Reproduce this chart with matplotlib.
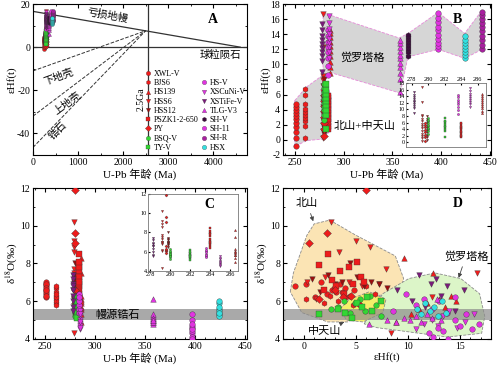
import numpy as np
import matplotlib
matplotlib.use('Agg')
import matplotlib.pyplot as plt
from matplotlib.lines import Line2D
from matplotlib.patches import Polygon
from matplotlib.ticker import AutoMinorLocator

plt.rcParams['font.family'] = ['Liberation Serif', 'Noto Sans CJK SC']
plt.rcParams['mathtext.fontset'] = 'stix'
plt.rcParams['axes.unicode_minus'] = False

# 颜色
red = '#ee1c1c'
darkred = '#9a0e0e'
green = '#33d633'
magenta = '#e033e0'
purple = '#7a1a7a'
cyan = '#33e0e0'
shv_col = '#3a0a3a'
shr_col = '#a8209f'

# 样品数据: 年龄 (Ma), εHf(t), δ18O
xwl_age = 251
xwl_hf = [-0.8, 0.2, 1.1, 1.7, 2.2, 2.7, 3.1, 3.5, 4.0, 4.4, 4.8]
xwl_o = [6.8, 6.9, 6.2, 7.0, 6.4, 6.6, 6.5, 6.9, 6.7, 6.3, 6.6]

bjs_age = 261
bjs_hf = [0.2, 1.9, 2.5, 2.9, 3.3, 3.7, 4.1, 4.7, 6.0, 6.8]
bjs_o = [6.1, 5.9, 6.3, 6.7, 6.0, 6.5, 6.2, 5.8, 6.8, 6.4]

hs139_age = 286.5
hs139_hf = [8.9, 9.6, 10.3, 11.1, 11.8, 12.4, 13.0, 13.6, 14.2, 14.6]
hs139_o = [4.9, 8.3, 5.3, 5.6, 5.9, 7.5, 6.1, 5.7, 6.3, 6.0]

hss6_age = 279.2
hss6_hf = [0.3, 1.2, 2.0, 2.6, 3.4, 4.3, 5.0, 5.6, 6.4, 7.2, 7.9, 8.4, 12.3, 16.7]
hss6_o = [7.0, 6.1, 7.3, 10.2, 8.6, 7.0, 9.2, 6.8, 8.9, 6.9, 7.7, 4.3, 6.2, 7.5]

hss12_age = 279.8
hss12_hf = [0.8, 1.6, 2.3, 3.0, 3.7, 4.4, 5.1, 5.8, 6.5, 7.2, 8.0]
hss12_o = [7.2, 6.5, 7.4, 6.9, 7.0, 8.0, 7.3, 6.8, 7.0, 6.9, 6.7]

pszk_age = 284
pszk_hf = [1.5, 1.9, 2.3, 2.7, 3.1, 3.5, 3.9, 4.3, 4.7, 5.1, 5.5, 5.8]
pszk_o = [7.9, 6.6, 8.5, 7.1, 6.8, 7.6, 6.4, 7.8, 6.9, 8.1, 7.3, 7.0]

py_age = 279.6
py_hf = [0.5, 1.5, 2.2, 3.0, 3.8, 4.5, 5.2, 6.0]
py_o = [9.1, 6.1, 9.6, 6.6, 6.2, 6.3, 5.9, 11.9]

bsq_age = 280
bsq_hf = [2.6, 3.3, 3.9, 4.4, 4.9, 5.4, 5.9, 6.4, 6.9, 7.4]
bsq_o = [5.6, 5.7, 6.0, 5.4, 5.9, 6.1, 5.5, 6.3, 5.8, 5.2]

ty_age = 282
ty_hf = [1.5, 3.3, 4.0, 4.6, 5.1, 5.6, 6.1, 6.6, 7.4]
ty_o = [5.3, 5.6, 5.4, 5.1, 5.9, 5.7, 6.2, 5.5, 6.0]

hsv_age = 283.6
hsv_hf = [8.6, 9.8, 10.8, 11.6, 12.3, 13.0, 13.8, 14.5]
hsv_o = [5.5, 6.4, 5.8, 6.1, 5.6, 6.0, 5.4, 6.2]

xscu_age = 285
xscu_hf = [10.8, 11.6, 12.3, 12.9, 13.4, 14.0, 14.7, 15.5, 16.4]
xscu_o = [4.5, 4.8, 5.0, 4.7, 5.2, 5.5, 4.6, 4.9, 5.3]

xsti_age = 278.3
xsti_hf = [9.0, 10.4, 11.1, 11.7, 12.2, 12.7, 13.2, 13.8, 14.5, 15.4]
xsti_o = [6.6, 6.0, 7.4, 5.7, 6.9, 7.2, 6.3, 6.8, 5.5, 6.6]

tlg_age = 358
tlg_hf = [6.3, 8.0, 8.9, 9.6, 10.2, 10.8, 11.3, 11.8, 12.3, 12.8, 13.2]
tlg_o = [4.8, 5.0, 4.9, 5.1, 5.0, 5.2, 4.9, 5.3, 5.1, 6.1, 5.0]

shv_age = 366
shv_hf = [11.1, 11.6, 12.0, 12.4, 12.8, 13.2, 13.6, 13.9]

sh11_age = 397
sh11_hf = [12.0, 12.4, 12.9, 13.4, 13.9, 14.5, 15.0, 15.6, 16.2, 16.8]
sh11_o = [4.3, 4.1, 4.6, 4.4, 4.0, 5.0, 4.7, 5.3, 4.5, 4.8]

shr_age = 442
shr_hf = [12.1, 12.6, 13.2, 13.8, 14.4, 15.0, 15.5, 16.0, 16.5, 17.0]

hsx_age = 424
hsx_hf = [10.9, 11.3, 11.7, 12.1, 12.5, 12.9, 13.3, 13.7]
hsx_o = [5.6, 5.3, 5.9, 5.5, 5.7, 5.2, 6.0, 5.4]

# 名称, 年龄, εHf, δ18O, 符号, 颜色
samples = [
    ('XWL-V', xwl_age, xwl_hf, xwl_o, 'o', red),
    ('BJS6', bjs_age, bjs_hf, bjs_o, 'h', red),
    ('HS139', hs139_age, hs139_hf, hs139_o, '^', red),
    ('HSS6', hss6_age, hss6_hf, hss6_o, 'v', red),
    ('HSS12', hss12_age, hss12_hf, hss12_o, 'v', darkred),
    ('PSZK1-2-650', pszk_age, pszk_hf, pszk_o, 's', red),
    ('PY', py_age, py_hf, py_o, 'D', red),
    ('BSQ-V', bsq_age, bsq_hf, bsq_o, 'o', green),
    ('TY-V', ty_age, ty_hf, ty_o, 's', green),
    ('HS-V', hsv_age, hsv_hf, hsv_o, 'o', magenta),
    ('XSCuNi-V', xscu_age, xscu_hf, xscu_o, 'v', magenta),
    ('XSTiFe-V', xsti_age, xsti_hf, xsti_o, 'v', purple),
    ('TLG-V3', tlg_age, tlg_hf, tlg_o, '^', magenta),
    ('SH-V', shv_age, shv_hf, None, 'h', shv_col),
    ('SH-11', sh11_age, sh11_hf, sh11_o, 'o', magenta),
    ('SH-R', shr_age, shr_hf, None, 'o', shr_col),
    ('HSX', hsx_age, hsx_hf, hsx_o, 'o', cyan),
]

# 演化线
dm_age = [0, 4600]
dm_hf = [16.6, 0]
crust_hf0 = [-11, -32, -46.5]
age_25 = 2500
hf_25 = 7.6

# 区域
poly_b_upper = [(279, 16.7), (287, 16.5), (357, 13.5), (366, 14.1), (397, 16.9), (424, 14.1),
                (442, 17.2), (442, 12.0), (424, 10.8), (397, 12.0), (366, 11.0), (358, 6.2),
                (287, 8.9), (279, 8.6)]
poly_b_lower = [(250, 5.2), (262, 7.0), (279, 8.6), (287, 6.0), (287, 1.3), (279, 0.1),
                (262, -0.1), (250, -0.9)]
poly_beishan = [(-1.3, 6.5), (-1.0, 7.5), (0.3, 9.5), (1.0, 10.1), (2.5, 10.3), (5.0, 9.5),
                (8.8, 8.4), (9.6, 7.2), (9.2, 6.4), (7.0, 6.3), (5.5, 5.5), (4.2, 4.9),
                (2.3, 4.9), (-0.2, 5.4)]
poly_zts = [(3.5, 5.6), (4.4, 6.1), (6.3, 6.5), (7.9, 6.1), (7.6, 5.4), (5.7, 4.9), (4.1, 5.0)]
poly_jlt = [(5.8, 4.8), (7.6, 6.4), (10.1, 7.2), (12.6, 7.5), (15.1, 7.2), (16.9, 6.4),
            (17.4, 5.2), (17.1, 4.3), (13.8, 4.1), (9.75, 4.4), (7.0, 4.6)]
mantle_o = (5.0, 5.6)

ms = 16
edge = '#333333'

fig = plt.figure(figsize=(5, 3.68), dpi=100)
axA = fig.add_axes([0.066, 0.579, 0.428, 0.41])
axB = fig.add_axes([0.566, 0.579, 0.416, 0.41])
axC = fig.add_axes([0.066, 0.079, 0.428, 0.41])
axD = fig.add_axes([0.566, 0.079, 0.416, 0.41])

for ax in (axA, axB, axC, axD):
    ax.tick_params(direction='in', labelsize=7, length=3, top=True, right=True, pad=2)
    ax.tick_params(which='minor', direction='in', length=1.5, top=True, right=True)

def scatter_age(ax, s, field, lo=None, hi=None):
    for name, age, hf, o, mk, col in samples:
        vals = hf if field == 'hf' else o
        if vals is None:
            continue
        if lo is not None and not (lo <= age <= hi):
            continue
        ax.scatter([age] * len(vals), vals, s=s, marker=mk, c=col,
                   edgecolors=edge, linewidths=0.25, zorder=3)

# ---------- A ----------
axA.plot(dm_age, dm_hf, color='#333333', lw=0.9)
axA.axhline(0, color='#333333', lw=0.9)
axA.axvline(2550, color='#333333', lw=0.9)
for h0 in crust_hf0:
    axA.plot([0, age_25], [h0, hf_25], color='#333333', lw=0.7, ls='--')
scatter_age(axA, 8, 'hf')
axA.set_xlim(0, 4750)
axA.set_ylim(-50, 20)
axA.set_xticks([0, 1000, 2000, 3000, 4000])
axA.set_yticks([20, 0, -20, -40])
axA.xaxis.set_minor_locator(AutoMinorLocator(2))
axA.yaxis.set_minor_locator(AutoMinorLocator(2))
axA.set_xlabel('U-Pb 年龄 (Ma)', fontsize=8, labelpad=1)
axA.set_ylabel('εHf(t)', fontsize=8, labelpad=0)
axA.text(1650, 14.8, '亏损地幔', fontsize=7.5, rotation=-10, ha='center', va='center')
axA.text(4150, -3.6, '球粒陨石', fontsize=7.5, ha='center', va='center')
axA.text(560, -13.8, '下地壳', fontsize=7.5, rotation=20, ha='center', va='center')
axA.text(760, -26.0, '上地壳', fontsize=7.5, rotation=37, ha='center', va='center')
axA.text(560, -39.0, '锆石', fontsize=7.5, rotation=46, ha='center', va='center')
axA.text(2410, -24.0, '2.5Ga', fontsize=7, rotation=90, ha='center', va='center')
axA.text(0.84, 0.9, 'A', transform=axA.transAxes, fontsize=10, fontweight='bold',
         ha='center', va='center')

handles = []
labels = []
for i, (name, age, hf, o, mk, col) in enumerate(samples):
    if i == 9:
        handles.append(Line2D([], [], ls='none', marker=None))
        labels.append(' ')
    handles.append(Line2D([], [], ls='none', marker=mk, markersize=3.2, markerfacecolor=col,
                          markeredgecolor=edge, markeredgewidth=0.2))
    labels.append(name)
axA.legend(handles, labels, ncol=2, loc='lower left', bbox_to_anchor=(0.5, -0.01),
           frameon=False, fontsize=5.8, labelspacing=0.15, handlelength=0.8,
           handletextpad=0.3, columnspacing=0.3, borderaxespad=0.2)

# ---------- B ----------
axB.add_patch(Polygon(poly_b_upper, closed=True, facecolor='#d6d6d6', edgecolor='#e68ad8',
                      ls='--', lw=0.6, zorder=1))
axB.add_patch(Polygon(poly_b_lower, closed=True, facecolor='#d6d6d6', edgecolor='#e68ad8',
                      ls='--', lw=0.6, zorder=1))
scatter_age(axB, ms, 'hf')
axB.set_xlim(238, 451)
axB.set_ylim(-2, 18)
axB.set_xticks([250, 300, 350, 400, 450])
axB.set_yticks(np.arange(-2, 19, 2))
axB.xaxis.set_minor_locator(AutoMinorLocator(5))
axB.set_xlabel('U-Pb 年龄 (Ma)', fontsize=8, labelpad=1)
axB.set_ylabel('εHf(t)', fontsize=8, labelpad=0)
axB.text(319, 11.0, '觉罗塔格', fontsize=8, ha='center', va='center')
axB.text(321, 1.8, '北山+中天山', fontsize=8, ha='center', va='center')
axB.text(0.84, 0.9, 'B', transform=axB.transAxes, fontsize=10, fontweight='bold',
         ha='center', va='center')

insB = fig.add_axes([0.812, 0.60, 0.16, 0.174])
scatter_age(insB, 2.5, 'hf', 277, 287)
insB.set_xlim(277.3, 287)
insB.set_ylim(-1.5, 18)
insB.set_xticks([278, 280, 282, 284, 286])
insB.set_yticks(np.arange(0, 19, 2))
insB.tick_params(direction='in', labelsize=4.5, length=1.5, pad=1,
                 top=True, labeltop=True, bottom=False, labelbottom=False)
for sp in insB.spines.values():
    sp.set_color('#777777')
    sp.set_linewidth(0.6)

# ---------- C ----------
axC.axhspan(mantle_o[0], mantle_o[1], color='#a9a9a9', zorder=1, lw=0)
scatter_age(axC, ms, 'o')
axC.set_xlim(238, 452)
axC.set_ylim(4, 12)
axC.set_xticks([250, 300, 350, 400, 450])
axC.set_yticks([4, 6, 8, 10, 12])
axC.xaxis.set_minor_locator(AutoMinorLocator(5))
axC.yaxis.set_minor_locator(AutoMinorLocator(2))
axC.set_xlabel('U-Pb 年龄 (Ma)', fontsize=8, labelpad=1)
axC.set_ylabel(r'δ$^{18}$O(‰)', fontsize=8, labelpad=1)
axC.text(323, 5.3, '幔源锆石', fontsize=8, ha='center', va='center', zorder=4)

insC = fig.add_axes([0.296, 0.264, 0.18, 0.209])
scatter_age(insC, 2.5, 'o', 277, 287)
insC.set_xlim(277.8, 286.8)
insC.set_ylim(4, 12)
insC.set_xticks([278, 280, 282, 284, 286])
insC.set_yticks([4, 6, 8, 10, 12])
insC.tick_params(direction='in', labelsize=4.5, length=1.5, pad=1)
for sp in insC.spines.values():
    sp.set_color('#777777')
    sp.set_linewidth(0.6)
insC.text(0.68, 0.86, 'C', transform=insC.transAxes, fontsize=10, fontweight='bold',
          ha='center', va='center')

# ---------- D ----------
axD.add_patch(Polygon(poly_beishan, closed=True, facecolor='#fbe4b4', edgecolor='#8a8a8a',
                      ls='--', lw=0.6, zorder=1))
axD.add_patch(Polygon(poly_jlt, closed=True, facecolor='#dcf5c8', edgecolor='#8a8a8a',
                      ls='--', lw=0.6, zorder=1))
axD.add_patch(Polygon(poly_zts, closed=True, facecolor='#f4f06a', edgecolor='#8a8a8a',
                      ls='--', lw=0.6, zorder=1.2))
axD.axhspan(mantle_o[0], mantle_o[1], color='#8c8c8c', alpha=0.7, zorder=2, lw=0)
for name, age, hf, o, mk, col in samples:
    if o is None:
        continue
    axD.scatter(hf, o, s=ms, marker=mk, c=col, edgecolors=edge, linewidths=0.25, zorder=3)
axD.set_xlim(-2, 18)
axD.set_ylim(4, 12)
axD.set_xticks([0, 5, 10, 15])
axD.set_yticks([4, 6, 8, 10, 12])
axD.xaxis.set_minor_locator(AutoMinorLocator(5))
axD.yaxis.set_minor_locator(AutoMinorLocator(2))
axD.set_xlabel('εHf(t)', fontsize=8, labelpad=1)
axD.set_ylabel(r'δ$^{18}$O(‰)', fontsize=8, labelpad=1)
arrow = dict(arrowstyle='-|>', color='#444444', lw=0.6, mutation_scale=6)
axD.annotate('北山', xy=(1.0, 10.1), xytext=(0.3, 11.2), fontsize=8, ha='center',
             va='center', arrowprops=arrow)
axD.annotate('中天山', xy=(4.1, 4.95), xytext=(2.0, 4.4), fontsize=8, ha='center',
             va='center', arrowprops=arrow, zorder=5)
axD.annotate('觉罗塔格', xy=(14.8, 7.1), xytext=(15.6, 8.4), fontsize=8, ha='center',
             va='center', arrowprops=arrow)
axD.text(0.84, 0.9, 'D', transform=axD.transAxes, fontsize=10, fontweight='bold',
         ha='center', va='center')

fig.savefig('out.png', dpi=100)
